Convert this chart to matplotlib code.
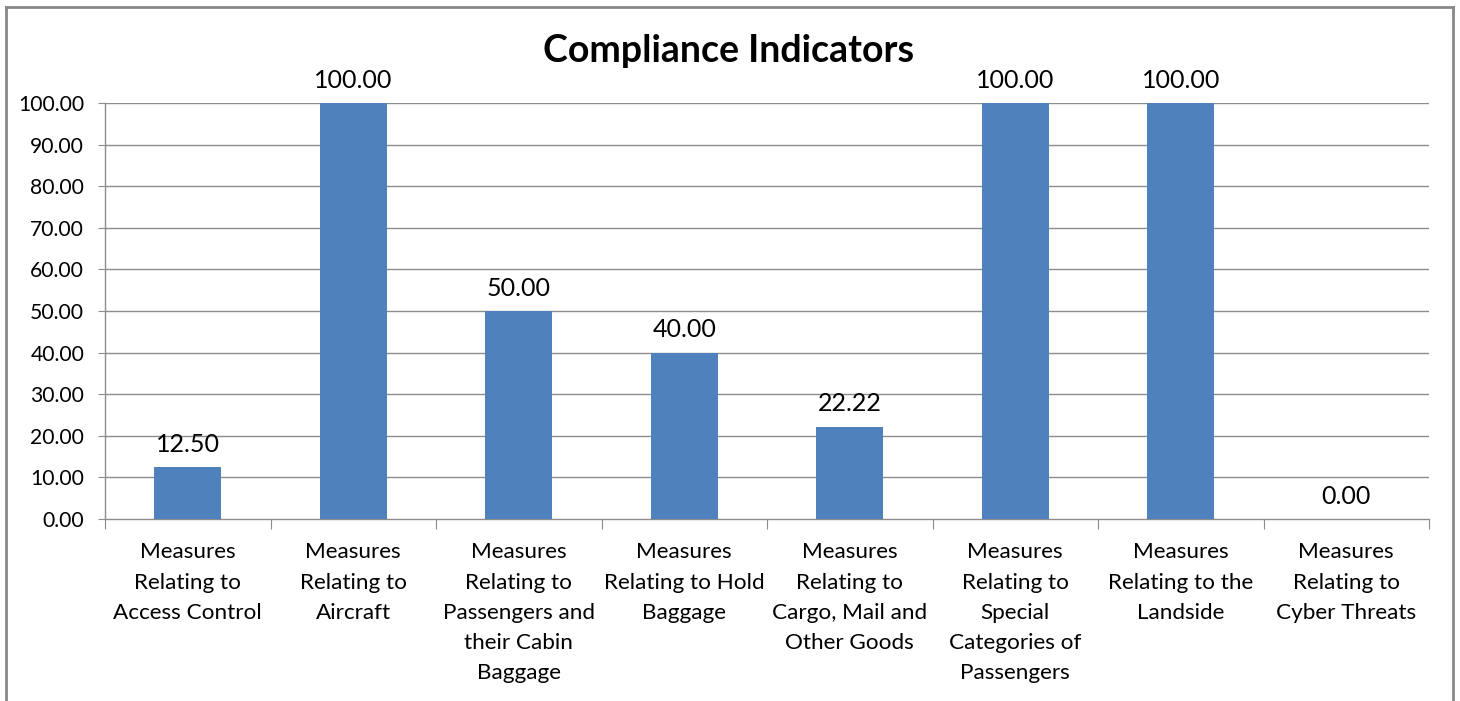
import matplotlib
matplotlib.use("Agg")
import matplotlib.pyplot as plt
from matplotlib.lines import Line2D

categories = [
    "Measures\nRelating to\nAccess Control",
    "Measures\nRelating to\nAircraft",
    "Measures\nRelating to\nPassengers and\ntheir Cabin\nBaggage",
    "Measures\nRelating to Hold\nBaggage",
    "Measures\nRelating to\nCargo, Mail and\nOther Goods",
    "Measures\nRelating to\nSpecial\nCategories of\nPassengers",
    "Measures\nRelating to the\nLandside",
    "Measures\nRelating to\nCyber Threats",
]
values = [12.50, 100.00, 50.00, 40.00, 22.22, 100.00, 100.00, 0.00]
yticks = [0, 10, 20, 30, 40, 50, 60, 70, 80, 90, 100]

plt.rcParams['font.family'] = ['Lato', 'DejaVu Sans']
W, H = 1460, 701
fig = plt.figure(figsize=(W/100, H/100), dpi=100)
ax = fig.add_axes([105/W, 1-519/H, (1429-105)/W, (519-103)/H])

grid_c = '#8c8c8c'
x = list(range(len(values)))
ax.bar(x, values, width=0.405, color='#4F81BD', zorder=3)
ax.set_xlim(-0.5, len(values)-0.5)
ax.set_ylim(0, 100)
ax.set_yticks(yticks)
ax.set_yticklabels([f"{v:.2f}" for v in yticks], fontsize=15.2, color='#000000')
for v in yticks[1:]:
    ax.axhline(v, color=grid_c, lw=1, zorder=1)

for xi, v in zip(x, values):
    ax.annotate(f"{v:.2f}", (xi, v), xytext=(0, 8), textcoords='offset points',
                ha='center', va='bottom', fontsize=18, color='#000000')

ax.set_xticks([i + 0.5 for i in range(-1, len(values))], minor=False)
ax.set_xticklabels([])
ax.tick_params(axis='x', length=7, color=grid_c, direction='out')
ax.tick_params(axis='y', length=5, color=grid_c, direction='out', pad=10)
for xi, lab in zip(x, categories):
    ax.text(xi, -5.6, lab, ha='center', va='top', fontsize=16.2, linespacing=1.64,
            transform=ax.transData)

for s in ['top', 'right']:
    ax.spines[s].set_visible(False)
for s in ['left', 'bottom']:
    ax.spines[s].set_color(grid_c)
    ax.spines[s].set_linewidth(1)

fig.text(729/W, 1-51/H, "Compliance Indicators", ha='center', va='center',
         fontsize=27, fontweight='bold')

bc = '#888888'
x0, x1, y0 = 6/W, 1453/W, 1-7/H
fig.add_artist(Line2D([x0, x0], [y0, -0.1], color=bc, lw=2, transform=fig.transFigure))
fig.add_artist(Line2D([x1, x1], [y0, -0.1], color=bc, lw=2, transform=fig.transFigure))
fig.add_artist(Line2D([x0, x1], [y0, y0], color=bc, lw=2, transform=fig.transFigure))

fig.savefig("out.png", dpi=100)
